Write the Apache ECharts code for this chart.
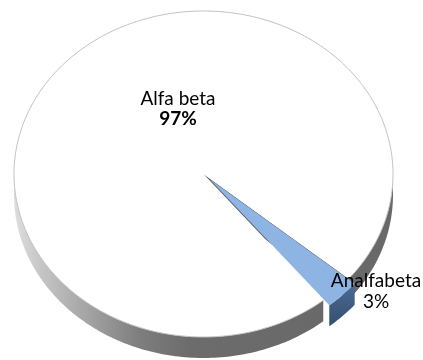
<!DOCTYPE html>
<html>
<head>
<meta charset="utf-8">
<script src="https://cdn.jsdelivr.net/npm/echarts@6/dist/echarts.min.js"></script>
<style>
  html, body { margin: 0; padding: 0; background: #ffffff; }
  #chart { width: 423px; height: 360px; }
</style>
</head>
<body>
<div id="chart"></div>
<script>
// Literacy split
const categories = ['Alfa beta', 'Analfabeta'];
const values = [97, 3];

// Tilted 3-D pie geometry (pixels / degrees, clockwise from 3 o'clock)
const PIE = { cx: 203.5, cy: 174, rx: 189.5, ry: 163, depth: 21, startAngle: 50.8 };

// Per-slice appearance
const SLICE_STYLE = [
  { top: '#ffffff', rim: '#c2c2c2', explode: [0, 0], wall: 'grey' },
  { top: '#8eb4e3', rim: null, explode: [6, 5], wall: 'blue' }
];

// Label placement and weight of the percentage line
const LABEL_STYLE = [
  { x: 178, y: 99, gap: 20, pctBold: true },
  { x: 376, y: 281, gap: 21, pctBold: false }
];

const FONT = 'Lato, "Noto Sans", sans-serif';
const FONT_SIZE = 19;

const total = values.reduce((a, b) => a + b, 0);

function pt(a, z, ox, oy) {
  const r = a * Math.PI / 180;
  return [PIE.cx + ox + PIE.rx * Math.cos(r), PIE.cy + oy + PIE.ry * Math.sin(r) + z];
}

function arcPts(a0, a1, z, ox, oy) {
  const n = Math.max(2, Math.ceil(Math.abs(a1 - a0)));
  const out = [];
  for (let i = 0; i <= n; i++) out.push(pt(a0 + (a1 - a0) * i / n, z, ox, oy));
  return out;
}

// Parts of [s, e] lying on the near (lower) half of the disc
function frontRanges(s, e) {
  const res = [];
  for (const k of [-360, 0, 360, 720]) {
    const lo = Math.max(s, k), hi = Math.min(e, k + 180);
    if (hi > lo) res.push([lo, hi]);
  }
  return res;
}

function wallFill(kind) {
  if (kind === 'blue') {
    return {
      type: 'linear', x: 0, y: 0, x2: 0, y2: 1,
      colorStops: [
        { offset: 0, color: '#4a6a96' },
        { offset: 1, color: '#364e6e' }
      ]
    };
  }
  return {
    type: 'linear', global: true,
    x: PIE.cx - PIE.rx, y: 0, x2: PIE.cx + PIE.rx, y2: 0,
    colorStops: [
      { offset: 0, color: '#dedede' },
      { offset: 0.07, color: '#c6c6c6' },
      { offset: 0.2, color: '#a2a2a2' },
      { offset: 0.33, color: '#7e7e7e' },
      { offset: 0.46, color: '#6c6c6c' },
      { offset: 1, color: '#686868' }
    ]
  };
}

function renderItem(params, api) {
  const i = params.dataIndex;
  let before = 0;
  for (let k = 0; k < i; k++) before += values[k];
  const s = PIE.startAngle + before / total * 360;
  const e = s + api.value(0) / total * 360;
  const st = SLICE_STYLE[i];
  const [ox, oy] = st.explode;
  const children = [];

  // Cut face at the end edge, seen through the gap of an exploded neighbour
  const next = SLICE_STYLE[(i + 1) % values.length];
  if (next.explode[0] || next.explode[1]) {
    const c0 = [PIE.cx + ox, PIE.cy + oy];
    const c1 = [PIE.cx + ox, PIE.cy + oy + PIE.depth];
    children.push({
      type: 'polygon',
      shape: { points: [c0, pt(e, 0, ox, oy), pt(e, PIE.depth, ox, oy), c1] },
      style: { fill: '#5e5e5e' }
    });
  }

  // Outer side wall
  frontRanges(s, e).forEach(([lo, hi]) => {
    children.push({
      type: 'polygon',
      shape: { points: arcPts(lo, hi, 0, ox, oy).concat(arcPts(hi, lo, PIE.depth, ox, oy)) },
      style: { fill: wallFill(st.wall) }
    });
  });

  // Top face
  children.push({
    type: 'polygon',
    shape: { points: [[PIE.cx + ox, PIE.cy + oy]].concat(arcPts(s, e, 0, ox, oy)) },
    style: { fill: st.top }
  });
  if (st.rim) {
    children.push({
      type: 'polyline',
      shape: { points: arcPts(s, e, 0, ox, oy) },
      style: { stroke: st.rim, lineWidth: 1, fill: null }
    });
  }

  // Labels: category name and share
  const lb = LABEL_STYLE[i];
  const pct = Math.round(api.value(0) / total * 100) + '%';
  children.push({
    type: 'text', z2: 10,
    style: {
      text: categories[i], x: lb.x, y: lb.y, fill: '#000000',
      fontFamily: FONT, fontSize: FONT_SIZE, align: 'center', verticalAlign: 'middle'
    }
  });
  children.push({
    type: 'text', z2: 10,
    style: {
      text: pct, x: lb.x, y: lb.y + lb.gap, fill: '#000000',
      fontFamily: FONT, fontSize: FONT_SIZE, fontWeight: lb.pctBold ? 'bold' : 'normal',
      align: 'center', verticalAlign: 'middle'
    }
  });

  return { type: 'group', children };
}

const chart = echarts.init(document.getElementById('chart'), null, { renderer: 'canvas' });
chart.setOption({
  backgroundColor: '#ffffff',
  animation: false,
  series: [{
    type: 'custom',
    coordinateSystem: 'none',
    silent: true,
    renderItem,
    data: values.map((v, i) => ({ name: categories[i], value: v }))
  }]
});
</script>
</body>
</html>
